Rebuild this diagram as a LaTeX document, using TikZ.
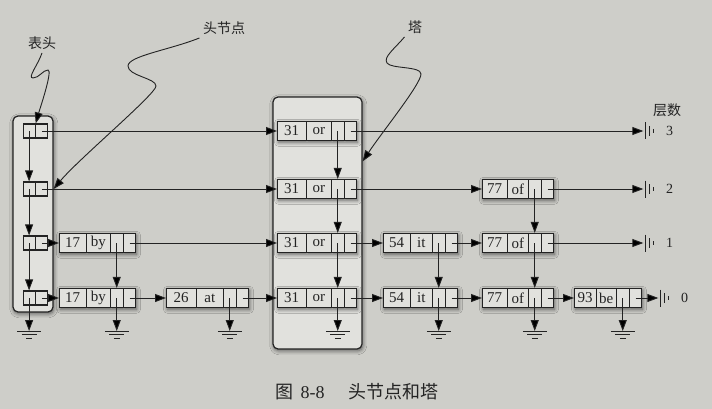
\documentclass[tikz,border=0pt]{standalone}
\usepackage{fontspec}
\setmainfont{Liberation Serif}
\newfontfamily\cjk{Noto Sans CJK SC}
\usetikzlibrary{arrows.meta,shapes.multipart,shadows.blur,calc,positioning}
\definecolor{paper}{RGB}{206,206,201}
\definecolor{boxfill}{RGB}{225,225,221}
\definecolor{ink}{RGB}{35,35,35}

\newcommand{\skiprec}[7]{% name, x, y, key, value, key width, value width
  \node[rec] (#1) at (#2,#3) {\makebox[#6pt]{#4}\nodepart{two}\makebox[#7pt]{#5}\nodepart{three}\makebox[11.5pt]{}\nodepart{four}\makebox[12pt]{}};
  \coordinate (#1-d) at ($(#1.two split)!.5!(#1.three split)$);
  \coordinate (#1-n) at ($(#1.three split)!.5!(#1.east)$);
}
\newcommand{\headcell}[2]{% name, y
  \node[hcell] (#1) at (23,#2) {\makebox[11pt]{}\nodepart{two}\makebox[12pt]{}};
  \coordinate (#1-d) at ($(#1.west)!.5!(#1.one split)$);
  \coordinate (#1-n) at ($(#1.one split)!.5!(#1.east)$);
}

\begin{document}
\begin{tikzpicture}[x=1pt,y=-1pt,
  outline/.style={draw=ink, line width=1.2pt},
  soft/.style={blur shadow={shadow xshift=0.8pt, shadow yshift=-1.8pt, shadow blur radius=4pt, shadow opacity=60}},
  colbox/.style={outline, fill=boxfill, rounded corners=5pt, soft},
  rec/.style={rectangle split, rectangle split horizontal, rectangle split parts=4,
    outline, fill=boxfill, soft, anchor=west, inner xsep=0pt, inner ysep=1.5pt,
    minimum height=19pt, font=\fontsize{15}{16}\selectfont, text=ink},
  hcell/.style={rectangle split, rectangle split horizontal, rectangle split parts=2,
    outline, fill=boxfill, anchor=west, inner sep=0pt, minimum height=14pt},
  ptr/.style={draw=ink, line width=0.9pt, -{Triangle[length=11pt,width=8pt]}},
  lbl/.style={font=\cjk\fontsize{14}{16}\selectfont, text=ink},
  lvl/.style={font=\fontsize{14}{16}\selectfont, text=ink},
  gnd/.pic={\draw[outline,-,line width=1pt] (-12,0) -- (12,0) (-7.5,3.5) -- (7.5,3.5) (-3,7) -- (3,7);},
  term/.pic={\draw[outline,-,line width=1pt] (1,-8.5) -- (1,8.5) (5,-5) -- (5,5) (9,-2) -- (9,2);}]
  \fill[paper] (0,0) rectangle (712,409);
  \node[colbox, minimum width=40pt, minimum height=196pt] (head) at (33,214) {};
  \node[colbox, minimum width=89pt, minimum height=252pt] (tower) at (317.5,223) {};

  \headcell{h3}{131}
  \headcell{h2}{189}
  \headcell{h1}{243}
  \headcell{h0}{298}

  \skiprec{by1}{59}{243}{17}{by}{26}{23}
  \skiprec{by0}{59}{298}{17}{by}{26}{23}
  \skiprec{at0}{166}{298}{26}{at}{29}{26}
  \skiprec{t3}{277}{131}{31}{or}{28}{24}
  \skiprec{t2}{277}{189}{31}{or}{28}{24}
  \skiprec{t1}{277}{243}{31}{or}{28}{24}
  \skiprec{t0}{277}{298}{31}{or}{28}{24}
  \skiprec{it1}{383}{243}{54}{it}{26}{21}
  \skiprec{it0}{383}{298}{54}{it}{26}{21}
  \skiprec{of2}{482}{189}{77}{of}{24}{20}
  \skiprec{of1}{482}{243}{77}{of}{24}{20}
  \skiprec{of0}{482}{298}{77}{of}{24}{20}
  \skiprec{be0}{574}{298}{93}{be}{21}{19}

  \node[inner sep=0pt] (e3) at (644,131) {};
  \node[inner sep=0pt] (e2) at (644,189) {};
  \node[inner sep=0pt] (e1) at (644,243) {};
  \node[inner sep=0pt] (e0) at (659,298) {};
  \foreach \e/\k in {e3/3,e2/2,e1/1,e0/0} {
    \pic at (\e) {term};
    \node[lvl, right=18pt of \e] (l\k) {\k};
  }
  \node[lbl] (cengshu) at (667,110) {层数};

  \foreach \a/\b in {h3-n/t3.west, t3-n/e3, h2-n/t2.west, t2-n/of2.west, of2-n/e2,
      h1-n/by1.west, by1-n/t1.west, t1-n/it1.west, it1-n/of1.west, of1-n/e1,
      h0-n/by0.west, by0-n/at0.west, at0-n/t0.west, t0-n/it0.west, it0-n/of0.west,
      of0-n/be0.west, be0-n/e0}
    \draw[ptr] (\a) -- (\b);
  \foreach \a/\b in {h3/h2,h2/h1,h1/h0,t3/t2,t2/t1,t1/t0,by1/by0,it1/it0,of2/of1,of1/of0}
    \draw[ptr] (\a-d) -- (\a-d |- \b.north);
  \coordinate (gl) at (0,331);
  \foreach \a in {h0,by0,at0,t0,it0,of0,be0} {
    \draw[ptr] (\a-d) -- (\a-d |- gl);
    \pic at (\a-d |- gl) {gnd};
  }

  \node[lbl] (biaotou) at (42,43) {表头};
  \node[lbl] (toujd) at (224,28) {头节点};
  \node[lbl] (ta) at (415,27) {塔};
  \draw[ptr] (biaotou.south) .. controls +(-4,12) and +(-6,0) .. (33,78)
    .. controls +(6,0) and +(-5,0) .. (48,70)
    .. controls +(5,0) and +(4,-14) .. (h3.north);
  \draw[ptr] (toujd.south west) .. controls +(-30,12) and +(0,-10) .. (128,66)
    .. controls +(0,10) and +(0,-8) .. (156,86)
    .. controls +(0,8) and +(25,-30) .. (head.east |- h2);
  \draw[ptr] (ta.south west) .. controls +(-10,12) and +(-4,-6) .. (387,63)
    .. controls +(4,6) and +(0,-8) .. (421,74)
    .. controls +(0,10) and +(20,-30) .. ($(tower.north east)+(0,65)$);

  \node[font=\fontsize{18}{20}\selectfont, text=ink] (cap) at (357,392)
    {{\cjk 图}\hspace{7pt}8-8\hspace{24pt}{\cjk 头节点和塔}};
\end{tikzpicture}
\end{document}
